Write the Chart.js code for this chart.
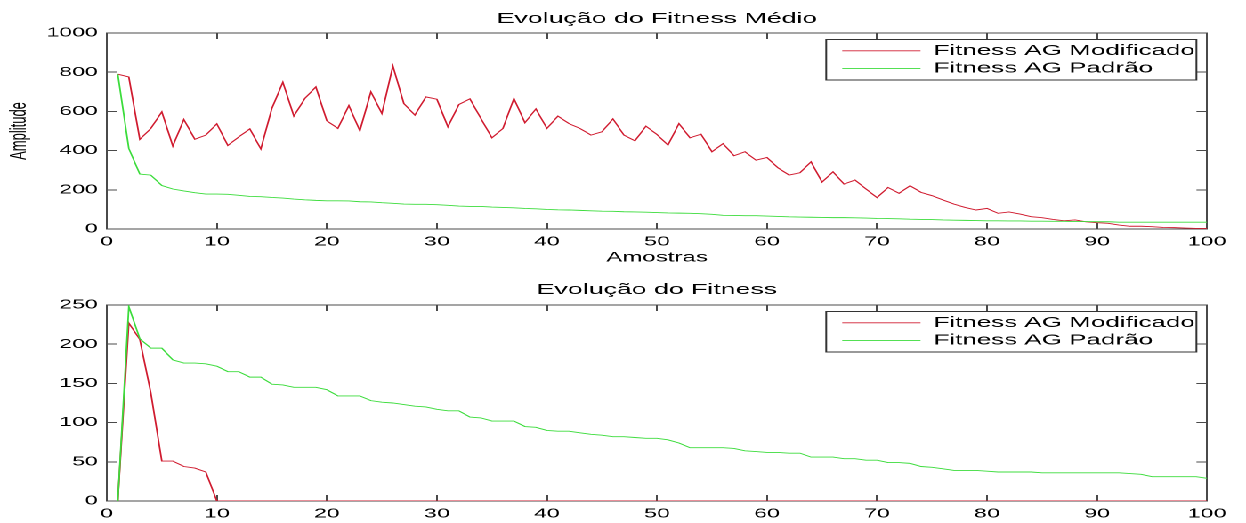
<!DOCTYPE html>
<html>
<head>
<meta charset="utf-8">
<title>Evolução do Fitness</title>
<script src="https://cdn.jsdelivr.net/npm/chart.js@4.4.0/dist/chart.umd.min.js"></script>
<style>
  html, body { margin: 0; padding: 0; background: #fff; overflow: hidden; }
  /* the original figure was stretched sideways, so draw narrow and scale the stage */
  #stage { position: absolute; left: 0; top: 0; width: 700px; height: 523px; transform: scaleX(1.78); transform-origin: 0 0; }
  .panel { position: absolute; left: 0; width: 700px; }
  #top-panel { top: 0; height: 268px; }
  #bottom-panel { top: 268px; height: 255px; }
</style>
</head>
<body>
<div id="stage">
  <div class="panel" id="top-panel"><canvas id="chart-media"></canvas></div>
  <div class="panel" id="bottom-panel"><canvas id="chart-fitness"></canvas></div>
</div>
<script>
// sample index 1..100
const amostras = Array.from({ length: 100 }, (_, i) => i + 1);

const seriesLabels = ['Fitness AG Modificado', 'Fitness AG Padrão'];

// Evolução do Fitness Médio
const mediaModificado = [
  790, 776, 457, 513, 598, 423, 559, 458, 479, 537,
  426, 470, 511, 408, 615, 749, 576, 666, 725, 552,
  513, 630, 501, 700, 589, 832, 640, 581, 674, 662,
  521, 635, 664, 564, 465, 513, 666, 542, 613, 513,
  576, 538, 513, 479, 496, 562, 479, 450, 525, 482,
  428, 538, 465, 484, 394, 436, 374, 394, 351, 365,
  312, 275, 287, 343, 239, 292, 229, 250, 204, 160,
  212, 182, 221, 187, 170, 148, 127, 110, 97, 105,
  80, 87, 76, 63, 58, 49, 42, 46, 37, 32,
  29, 20, 14, 14, 12, 8, 7, 5, 3, 3
];
const mediaPadrao = [
  790, 411, 280, 275, 222, 204, 194, 185, 178, 178,
  177, 172, 166, 165, 161, 158, 153, 149, 146, 144,
  144, 143, 139, 138, 134, 131, 127, 126, 126, 124,
  121, 117, 115, 115, 112, 110, 108, 105, 103, 100,
  98, 97, 95, 93, 91, 90, 88, 87, 86, 84,
  82, 81, 80, 78, 75, 70, 69, 68, 68, 66,
  64, 62, 61, 60, 59, 58, 58, 57, 56, 54,
  53, 52, 50, 49, 48, 46, 45, 44, 43, 42,
  42, 41, 41, 40, 40, 39, 39, 38, 38, 37,
  37, 35, 35, 35, 35, 35, 35, 35, 35, 35
];

// Evolução do Fitness
const fitModificado = [
  0, 227, 206, 138, 51, 51, 44, 42, 37, 0,
  0, 0, 0, 0, 0, 0, 0, 0, 0, 0,
  0, 0, 0, 0, 0, 0, 0, 0, 0, 0,
  0, 0, 0, 0, 0, 0, 0, 0, 0, 0,
  0, 0, 0, 0, 0, 0, 0, 0, 0, 0,
  0, 0, 0, 0, 0, 0, 0, 0, 0, 0,
  0, 0, 0, 0, 0, 0, 0, 0, 0, 0,
  0, 0, 0, 0, 0, 0, 0, 0, 0, 0,
  0, 0, 0, 0, 0, 0, 0, 0, 0, 0,
  0, 0, 0, 0, 0, 0, 0, 0, 0, 0
];
const fitPadrao = [
  0, 248, 207, 195, 195, 180, 176, 176, 175, 172,
  165, 165, 158, 158, 149, 148, 145, 145, 145, 142,
  134, 134, 134, 128, 126, 125, 123, 121, 120, 117,
  115, 115, 107, 106, 102, 102, 102, 95, 94, 90,
  89, 89, 87, 85, 84, 82, 82, 81, 80, 80,
  78, 74, 68, 68, 68, 68, 67, 64, 63, 62,
  62, 61, 61, 56, 56, 56, 54, 54, 52, 52,
  49, 49, 48, 44, 43, 41, 39, 39, 39, 38,
  37, 37, 37, 37, 36, 36, 36, 36, 36, 36,
  36, 36, 35, 34, 31, 31, 31, 31, 31, 29
];

const RED = '#d01c30';
const GREEN = '#3cdc3c';
const AXIS = '#4a4a4a';
const FONT = "'Liberation Sans', Arial, sans-serif";

/**
 * Put the legend in the upper right corner of the plot and draw its frame
 */
const legendFrame = {
  id: 'legendFrame',
  afterLayout(chart) {
    const lg = chart.legend;
    const area = chart.chartArea;
    const w = lg.width, h = lg.height;
    lg.left = area.right - 208;
    lg.right = lg.left + w;
    lg.top = area.top + 7.5;
    lg.bottom = lg.top + h;
  },
  afterDraw(chart) {
    const a = chart.chartArea;
    const ctx = chart.ctx;
    ctx.save();
    ctx.strokeStyle = '#333';
    ctx.lineWidth = 1;
    ctx.strokeRect(a.right - 214, a.top + 6.5, 208, 40.5);
    ctx.restore();
  }
};

function axisScale(axis, position, max, step, showLabels, fitSize) {
  return {
    type: 'linear',
    axis: axis,
    position: position,
    min: 0,
    max: max,
    border: { display: true, color: AXIS, width: 1 },
    grid: { drawOnChartArea: false, drawTicks: true, tickLength: -6, color: AXIS },
    ticks: {
      display: showLabels,
      stepSize: step,
      padding: 11,
      color: '#000',
      font: { family: FONT, size: 13 },
      format: { useGrouping: false },
      maxRotation: 0,
      autoSkip: false
    },
    afterFit: (scale) => {
      if (axis === 'x') scale.height = fitSize; else scale.width = fitSize;
    }
  };
}

function buildChart(canvasId, title, titlePadding, redData, greenData, yMax, yStep, xFit, withAxisTitles) {
  const scales = {
    x: axisScale('x', 'bottom', 100, 10, true, xFit),
    y: axisScale('y', 'left', yMax, yStep, true, 60),
    x2: axisScale('x', 'top', 100, 10, false, 0),
    y2: axisScale('y', 'right', yMax, yStep, false, 0)
  };
  if (withAxisTitles) {
    scales.x.title = {
      display: true, text: 'Amostras', color: '#000',
      font: { family: FONT, size: 13.5 }, padding: { top: 0, bottom: 2 }
    };
    scales.y.title = {
      display: true, text: 'Amplitude', color: '#000',
      font: { family: FONT, size: 13 }, padding: { top: 3, bottom: 0 }
    };
  }

  return new Chart(document.getElementById(canvasId), {
    type: 'line',
    data: {
      labels: amostras,
      datasets: [
        {
          label: seriesLabels[0],
          data: redData,
          borderColor: RED,
          backgroundColor: RED,
          borderWidth: 0.9,
          pointRadius: 0,
          tension: 0,
          order: 1
        },
        {
          label: seriesLabels[1],
          data: greenData,
          borderColor: GREEN,
          backgroundColor: GREEN,
          borderWidth: 0.9,
          pointRadius: 0,
          tension: 0,
          order: 0
        }
      ]
    },
    options: {
      responsive: true,
      maintainAspectRatio: false,
      animation: false,
      devicePixelRatio: 2,
      layout: { padding: { left: 0, right: 18, top: 0, bottom: 0 } },
      plugins: {
        title: {
          display: true,
          fullSize: false,
          text: title,
          color: '#000',
          font: { family: FONT, size: 15, weight: 'normal' },
          padding: titlePadding
        },
        legend: {
          display: true,
          position: 'chartArea',
          align: 'start',
          labels: {
            color: '#000',
            font: { family: FONT, size: 14.6 },
            usePointStyle: true,
            pointStyle: 'line',
            pointStyleWidth: 44,
            padding: 3,
            sort: (a, b) => a.datasetIndex - b.datasetIndex
          }
        },
        tooltip: { enabled: false }
      },
      scales: scales
    },
    plugins: [legendFrame]
  });
}

buildChart('chart-media', 'Evolução do Fitness Médio', { top: 10, bottom: 5 },
  mediaModificado, mediaPadrao, 1000, 200, 39, true);
buildChart('chart-fitness', 'Evolução do Fitness', { top: 13, bottom: 6 },
  fitModificado, fitPadrao, 250, 50, 22, false);
</script>
</body>
</html>
